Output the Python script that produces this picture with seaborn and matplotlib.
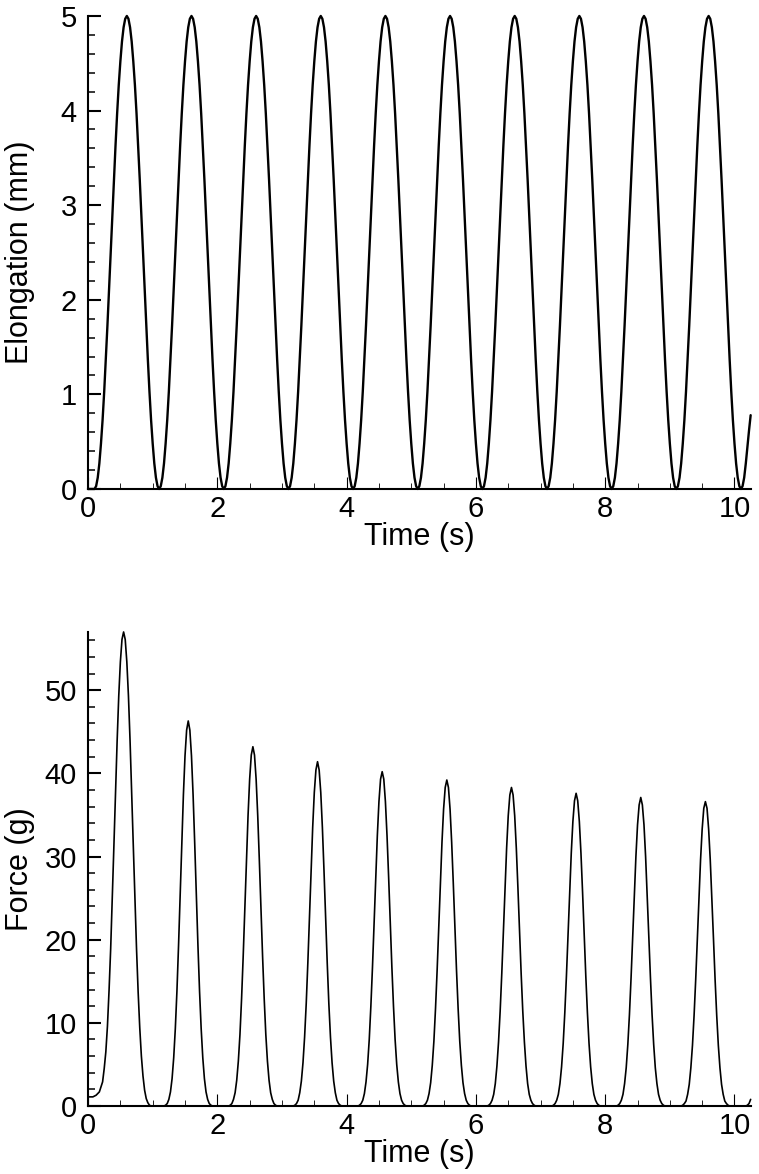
import numpy as np
import pandas as pd
import seaborn as sns
import matplotlib.pyplot as plt
from matplotlib.ticker import MultipleLocator

# sample times, every 0.025 s
time_s = np.round(np.arange(0, 10.2501, 0.025), 3)

# elongation (mm), one row per 1 s cycle (trough to trough)
elongation_mm = [
    0.0, 0.0, 0.0, 0.0,
    0.0, 0.03, 0.12, 0.27, 0.48, 0.73, 1.03, 1.37, 1.73, 2.11, 2.5, 2.89, 3.27, 3.63, 3.97, 4.27, 4.52, 4.73, 4.88, 4.97, 5.0, 4.97, 4.88, 4.73, 4.52, 4.27, 3.97, 3.63, 3.27, 2.89, 2.5, 2.11, 1.73, 1.37, 1.03, 0.73, 0.48, 0.27, 0.12, 0.03,
    0.0, 0.03, 0.12, 0.27, 0.48, 0.73, 1.03, 1.37, 1.73, 2.11, 2.5, 2.89, 3.27, 3.63, 3.97, 4.27, 4.52, 4.73, 4.88, 4.97, 5.0, 4.97, 4.88, 4.73, 4.52, 4.27, 3.97, 3.63, 3.27, 2.89, 2.5, 2.11, 1.73, 1.37, 1.03, 0.73, 0.48, 0.27, 0.12, 0.03,
    0.0, 0.03, 0.12, 0.27, 0.48, 0.73, 1.03, 1.37, 1.73, 2.11, 2.5, 2.89, 3.27, 3.63, 3.97, 4.27, 4.52, 4.73, 4.88, 4.97, 5.0, 4.97, 4.88, 4.73, 4.52, 4.27, 3.97, 3.63, 3.27, 2.89, 2.5, 2.11, 1.73, 1.37, 1.03, 0.73, 0.48, 0.27, 0.12, 0.03,
    0.0, 0.03, 0.12, 0.27, 0.48, 0.73, 1.03, 1.37, 1.73, 2.11, 2.5, 2.89, 3.27, 3.63, 3.97, 4.27, 4.52, 4.73, 4.88, 4.97, 5.0, 4.97, 4.88, 4.73, 4.52, 4.27, 3.97, 3.63, 3.27, 2.89, 2.5, 2.11, 1.73, 1.37, 1.03, 0.73, 0.48, 0.27, 0.12, 0.03,
    0.0, 0.03, 0.12, 0.27, 0.48, 0.73, 1.03, 1.37, 1.73, 2.11, 2.5, 2.89, 3.27, 3.63, 3.97, 4.27, 4.52, 4.73, 4.88, 4.97, 5.0, 4.97, 4.88, 4.73, 4.52, 4.27, 3.97, 3.63, 3.27, 2.89, 2.5, 2.11, 1.73, 1.37, 1.03, 0.73, 0.48, 0.27, 0.12, 0.03,
    0.0, 0.03, 0.12, 0.27, 0.48, 0.73, 1.03, 1.37, 1.73, 2.11, 2.5, 2.89, 3.27, 3.63, 3.97, 4.27, 4.52, 4.73, 4.88, 4.97, 5.0, 4.97, 4.88, 4.73, 4.52, 4.27, 3.97, 3.63, 3.27, 2.89, 2.5, 2.11, 1.73, 1.37, 1.03, 0.73, 0.48, 0.27, 0.12, 0.03,
    0.0, 0.03, 0.12, 0.27, 0.48, 0.73, 1.03, 1.37, 1.73, 2.11, 2.5, 2.89, 3.27, 3.63, 3.97, 4.27, 4.52, 4.73, 4.88, 4.97, 5.0, 4.97, 4.88, 4.73, 4.52, 4.27, 3.97, 3.63, 3.27, 2.89, 2.5, 2.11, 1.73, 1.37, 1.03, 0.73, 0.48, 0.27, 0.12, 0.03,
    0.0, 0.03, 0.12, 0.27, 0.48, 0.73, 1.03, 1.37, 1.73, 2.11, 2.5, 2.89, 3.27, 3.63, 3.97, 4.27, 4.52, 4.73, 4.88, 4.97, 5.0, 4.97, 4.88, 4.73, 4.52, 4.27, 3.97, 3.63, 3.27, 2.89, 2.5, 2.11, 1.73, 1.37, 1.03, 0.73, 0.48, 0.27, 0.12, 0.03,
    0.0, 0.03, 0.12, 0.27, 0.48, 0.73, 1.03, 1.37, 1.73, 2.11, 2.5, 2.89, 3.27, 3.63, 3.97, 4.27, 4.52, 4.73, 4.88, 4.97, 5.0, 4.97, 4.88, 4.73, 4.52, 4.27, 3.97, 3.63, 3.27, 2.89, 2.5, 2.11, 1.73, 1.37, 1.03, 0.73, 0.48, 0.27, 0.12, 0.03,
    0.0, 0.03, 0.12, 0.27, 0.48, 0.73, 1.03, 1.37, 1.73, 2.11, 2.5, 2.89, 3.27, 3.63, 3.97, 4.27, 4.52, 4.73, 4.88, 4.97, 5.0, 4.97, 4.88, 4.73, 4.52, 4.27, 3.97, 3.63, 3.27, 2.89, 2.5, 2.11, 1.73, 1.37, 1.03, 0.73, 0.48, 0.27, 0.12, 0.03,
    0.0, 0.03, 0.12, 0.27, 0.45, 0.62, 0.78,
]

# force (g), first row 0-1 s, then one row per 1 s cycle
force_g = [
    1.1, 1.1, 1.1, 1.1, 1.2, 1.3, 1.5, 1.7, 2.3, 2.9, 4.5, 6.5, 9.6, 13.9, 18.9, 24.9, 31.3, 37.8, 43.9, 49.3, 53.4, 56.1, 57.0,
    56.1, 53.4, 49.3, 43.9, 37.8, 31.3, 24.9, 18.9, 13.7, 9.4, 6.0, 3.6, 1.9, 0.9, 0.4, 0.1, 0.0, 0.0,
    0.0, 0.0, 0.0, 0.0, 0.0, 0.0, 0.0, 0.1, 0.3, 0.8, 1.7, 3.3, 5.8, 9.3, 13.8, 19.3, 25.4, 31.6, 37.4, 42.1, 45.2, 46.3,
    45.2, 42.1, 37.4, 31.6, 25.4, 19.3, 13.8, 9.3, 5.8, 3.3, 1.7, 0.8, 0.3, 0.1, 0.0, 0.0, 0.0, 0.0,
    0.0, 0.0, 0.0, 0.0, 0.0, 0.0, 0.0, 0.1, 0.3, 0.8, 1.6, 3.1, 5.4, 8.6, 12.9, 18.0, 23.7, 29.5, 34.9, 39.3, 42.2, 43.2,
    42.2, 39.3, 34.9, 29.5, 23.7, 18.0, 12.9, 8.6, 5.4, 3.1, 1.6, 0.8, 0.3, 0.1, 0.0, 0.0, 0.0, 0.0,
    0.0, 0.0, 0.0, 0.0, 0.0, 0.0, 0.0, 0.1, 0.3, 0.7, 1.6, 3.0, 5.2, 8.3, 12.3, 17.2, 22.7, 28.3, 33.5, 37.7, 40.4, 41.4,
    40.4, 37.7, 33.5, 28.3, 22.7, 17.2, 12.3, 8.3, 5.2, 3.0, 1.6, 0.7, 0.3, 0.1, 0.0, 0.0, 0.0, 0.0,
    0.0, 0.0, 0.0, 0.0, 0.0, 0.0, 0.0, 0.1, 0.3, 0.7, 1.5, 2.9, 5.0, 8.0, 12.0, 16.7, 22.0, 27.5, 32.5, 36.6, 39.3, 40.2,
    39.3, 36.6, 32.5, 27.5, 22.0, 16.7, 12.0, 8.0, 5.0, 2.9, 1.5, 0.7, 0.3, 0.1, 0.0, 0.0, 0.0, 0.0,
    0.0, 0.0, 0.0, 0.0, 0.0, 0.0, 0.0, 0.1, 0.3, 0.7, 1.5, 2.8, 4.9, 7.8, 11.7, 16.3, 21.5, 26.8, 31.7, 35.7, 38.3, 39.2,
    38.3, 35.7, 31.7, 26.8, 21.5, 16.3, 11.7, 7.8, 4.9, 2.8, 1.5, 0.7, 0.3, 0.1, 0.0, 0.0, 0.0, 0.0,
    0.0, 0.0, 0.0, 0.0, 0.0, 0.0, 0.0, 0.1, 0.3, 0.7, 1.4, 2.7, 4.8, 7.7, 11.4, 15.9, 21.0, 26.2, 31.0, 34.9, 37.4, 38.3,
    37.4, 34.9, 31.0, 26.2, 21.0, 15.9, 11.4, 7.7, 4.8, 2.7, 1.4, 0.7, 0.3, 0.1, 0.0, 0.0, 0.0, 0.0,
    0.0, 0.0, 0.0, 0.0, 0.0, 0.0, 0.0, 0.1, 0.3, 0.7, 1.4, 2.7, 4.7, 7.5, 11.2, 15.6, 20.6, 25.7, 30.4, 34.2, 36.7, 37.6,
    36.7, 34.2, 30.4, 25.7, 20.6, 15.6, 11.2, 7.5, 4.7, 2.7, 1.4, 0.7, 0.3, 0.1, 0.0, 0.0, 0.0, 0.0,
    0.0, 0.0, 0.0, 0.0, 0.0, 0.0, 0.0, 0.1, 0.3, 0.7, 1.4, 2.7, 4.6, 7.4, 11.0, 15.4, 20.3, 25.3, 30.0, 33.8, 36.2, 37.1,
    36.2, 33.8, 30.0, 25.3, 20.3, 15.4, 11.0, 7.4, 4.6, 2.7, 1.4, 0.7, 0.3, 0.1, 0.0, 0.0, 0.0, 0.0,
    0.0, 0.0, 0.0, 0.0, 0.0, 0.0, 0.0, 0.1, 0.3, 0.6, 1.4, 2.6, 4.6, 7.3, 10.9, 15.2, 20.1, 25.0, 29.6, 33.3, 35.8, 36.6,
    35.8, 33.3, 29.6, 25.0, 20.1, 15.2, 10.9, 7.3, 4.6, 2.6, 1.4, 0.6, 0.3, 0.1, 0.0, 0.0, 0.0, 0.0,
    0.0, 0.0, 0.0, 0.0, 0.0, 0.0, 0.0, 0.1, 0.3, 0.8,
]

df = pd.DataFrame({'Time': time_s, 'Elongation': elongation_mm, 'Force': force_g})

sns.set_style("ticks")
plt.rcParams['font.family'] = ['Liberation Sans', 'DejaVu Sans']
plt.rcParams.update({'text.color': 'black', 'axes.labelcolor': 'black',
                     'xtick.color': 'black', 'ytick.color': 'black',
                     'axes.edgecolor': 'black'})

fig = plt.figure(figsize=(7.59, 11.74), dpi=100)
ax1 = fig.add_axes([0.116, 0.5835, 0.873, 0.4029])
ax2 = fig.add_axes([0.116, 0.0579, 0.873, 0.4038])

sns.lineplot(data=df, x='Time', y='Elongation', ax=ax1, color='black', linewidth=1.7, clip_on=False)
sns.lineplot(data=df, x='Time', y='Force', ax=ax2, color='black', linewidth=1.2, clip_on=False)

for ax, ylab, ytop, ymaj, ymin in [(ax1, 'Elongation (mm)', 5, 1, 0.2), (ax2, 'Force (g)', 57, 10, 2)]:
    ax.set_xlim(0, 10.25)
    ax.set_ylim(0, ytop)
    ax.xaxis.set_major_locator(MultipleLocator(2))
    ax.xaxis.set_minor_locator(MultipleLocator(0.5))
    ax.yaxis.set_major_locator(MultipleLocator(ymaj))
    ax.yaxis.set_minor_locator(MultipleLocator(ymin))
    for side in ['top', 'right']:
        ax.spines[side].set_visible(False)
    for side in ['left', 'bottom']:
        ax.spines[side].set_linewidth(1.5)
        ax.spines[side].set_color('black')
    ax.tick_params(axis='y', which='major', direction='in', length=9, width=1.5, labelsize=21, pad=8)
    ax.tick_params(axis='y', which='minor', direction='in', length=5, width=1.1)
    ax.tick_params(axis='x', which='major', direction='in', length=9, width=0.8, labelsize=21, pad=4)
    ax.tick_params(axis='x', which='minor', direction='in', length=4, width=0.6)
    ax.set_xlabel('Time (s)', fontsize=22)
    ax.set_ylabel(ylab, fontsize=22)
    ax.xaxis.set_label_coords(0.5, -0.07)
    ax.yaxis.set_label_coords(-0.08, 0.5)
    ax.set_facecolor('white')

fig.savefig('out.png', dpi=100, facecolor='white')
